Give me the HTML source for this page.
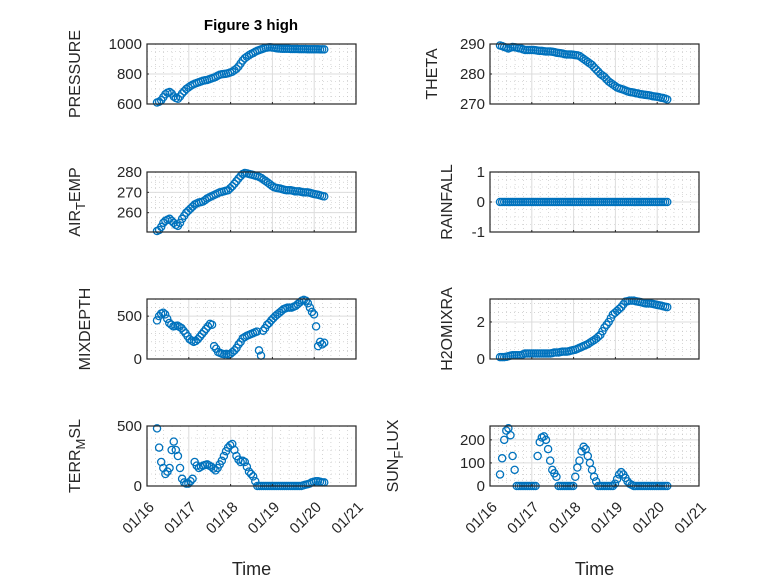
<!DOCTYPE html>
<html><head><meta charset="utf-8"><style>
body{margin:0;background:#fff;}
svg{display:block;font-family:"Liberation Sans","DejaVu Sans",sans-serif;}
</style></head><body>
<svg id="fig" width="778" height="583" viewBox="0 0 778 583" xmlns="http://www.w3.org/2000/svg">
<rect width="778" height="583" fill="#fff"/>
<text x="251" y="30" text-anchor="middle" font-size="15" font-weight="bold" fill="#000">Figure 3 high</text>
</svg>
<script>
const xTickLabels = ['01/16','01/17','01/18','01/19','01/20','01/21'];
const tStart = 0.24, tEnd = 4.24;
const pressure = [610,615,625,645,665,675,680,670,650,640,635,650,670,685,700,710,720,728,735,740,745,750,755,758,760,765,770,775,780,788,795,798,800,802,805,810,815,825,835,850,870,890,905,915,925,933,940,948,955,960,965,970,975,977,978,977,975,972,970,969,968,968,968,968,967,967,967,967,966,966,966,966,965,965,965,965,965,965,964,964,964];
const airTemp = [251,251.5,253,255,256,256.5,257,256,255,254,253.5,255,257,258.5,260,261,262,263,264,264.5,265,265.2,265.5,266.2,267,267.5,268,268.5,269,269.5,270,270.2,270.5,270.8,271,272,273,274.2,275.5,276.8,278,279,279.5,279.3,279,278.8,278.5,278.2,278,277.5,277,276.2,275.5,274.8,274,273.2,272.5,272.2,272,271.8,271.5,271.2,271,271,271,270.8,270.5,270.5,270.5,270.2,270,270,270,269.8,269.5,269.2,269,268.8,268.5,268.2,268];
const mixDepth = [450,500,530,540,520,470,420,400,380,385,390,375,360,330,300,265,230,215,200,210,230,260,290,320,350,380,410,400,150,120,80,70,60,55,60,50,60,80,100,130,170,200,240,255,270,280,290,300,310,320,100,40,330,360,400,420,450,475,500,520,540,560,580,590,600,600,600,610,620,640,660,680,690,680,650,600,550,520,380,150,200,170,190];
const terrMsl = [480,320,200,150,100,120,150,300,370,300,250,150,60,30,20,20,40,60,200,170,150,160,170,175,180,170,160,145,130,150,180,210,250,290,320,340,350,300,250,220,200,210,200,160,120,100,80,40,0,0,0,0,0,0,0,0,0,0,0,0,0,0,0,0,0,0,0,0,0,0,5,10,15,20,30,35,40,40,35,30,30];
const theta = [289.5,289.3,289,288.8,288.5,288.8,289,288.9,288.8,288.6,288.5,288.2,288,288,288,288,288,287.9,287.8,287.7,287.7,287.6,287.5,287.5,287.5,287.4,287.3,287.1,287,286.9,286.8,286.6,286.5,286.5,286.5,286.4,286.3,286.2,286,285.5,285,284.5,284,283.5,283,282.2,281.5,280.8,280,279.5,279,278.2,277.5,277,276.5,276,275.5,275.2,275,274.8,274.5,274.2,274,273.9,273.8,273.6,273.5,273.3,273.2,273.1,273,272.9,272.8,272.6,272.5,272.4,272.3,272.1,272,271.8,271.5];
const rainfall = [0,0,0,0,0,0,0,0,0,0,0,0,0,0,0,0,0,0,0,0,0,0,0,0,0,0,0,0,0,0,0,0,0,0,0,0,0,0,0,0,0,0,0,0,0,0,0,0,0,0,0,0,0,0,0,0,0,0,0,0,0,0,0,0,0,0,0,0,0,0,0,0,0,0,0,0,0,0,0,0,0];
const h2oMix = [0.1,0.1,0.1,0.12,0.15,0.18,0.2,0.2,0.2,0.2,0.2,0.25,0.3,0.3,0.3,0.3,0.3,0.3,0.3,0.3,0.3,0.3,0.3,0.3,0.3,0.32,0.35,0.35,0.35,0.38,0.4,0.4,0.4,0.42,0.45,0.48,0.5,0.55,0.6,0.65,0.7,0.75,0.8,0.88,0.95,1.02,1.1,1.2,1.3,1.5,1.7,1.85,2.0,2.2,2.4,2.5,2.6,2.7,2.8,2.95,3.1,3.12,3.15,3.15,3.15,3.12,3.1,3.08,3.05,3.02,3.0,3.0,3.0,2.98,2.95,2.92,2.9,2.88,2.85,2.82,2.8];
const sunFlux = [50,120,200,240,250,220,130,70,0,0,0,0,0,0,0,0,0,0,130,190,210,215,200,160,110,70,55,40,0,0,0,0,0,0,0,0,40,80,110,150,170,160,130,100,70,40,20,0,0,0,0,0,0,0,0,10,30,50,60,50,35,20,10,5,0,0,0,0,0,0,0,0,0,0,0,0,0,0,0,0,0];

const NS = 'http://www.w3.org/2000/svg';
const svg = document.getElementById('fig');
function mk(tag, attrs, parent) {
  const e = document.createElementNS(NS, tag);
  for (const k in attrs) e.setAttribute(k, attrs[k]);
  (parent || svg).appendChild(e);
  return e;
}
const panels = [
  {name:'pressure', x0:147, y0:44, ymin:600, ymax:1000, ticks:[600,800,1000], minor:50, data:pressure, label:['PRESSURE'], lx:80},
  {name:'air-temp', x0:147, y0:172, ymin:250.5, ymax:280, ticks:[260,270,280], minor:2.5, data:airTemp, label:['AIR','T','EMP'], lx:80},
  {name:'mixdepth', x0:147, y0:299, ymin:0, ymax:700, ticks:[0,500], minor:100, data:mixDepth, label:['MIXDEPTH'], lx:90},
  {name:'terr-msl', x0:147, y0:426, ymin:0, ymax:500, ticks:[0,500], minor:100, data:terrMsl, label:['TERR','M','SL'], lx:80, bottom:true},
  {name:'theta', x0:490, y0:44, ymin:270, ymax:290, ticks:[270,280,290], minor:2.5, data:theta, label:['THETA'], lx:437},
  {name:'rainfall', x0:490, y0:172, ymin:-1, ymax:1, ticks:[-1,0,1], minor:0.25, data:rainfall, label:['RAINFALL'], lx:452},
  {name:'h2omixra', x0:490, y0:299, ymin:0, ymax:3.24, ticks:[0,2], minor:0.5, data:h2oMix, label:['H2OMIXRA'], lx:452},
  {name:'sun-flux', x0:490, y0:426, ymin:0, ymax:260, ticks:[0,100,200], minor:25, data:sunFlux, label:['SUN','F','LUX'], lx:398, bottom:true}
];
const W = 209, H = 60;
panels.forEach(p => {
  const g = mk('g', {});
  
  
  const xs = d => p.x0 + d / 5 * W;
  const ys = v => p.y0 + H - (v - p.ymin) / (p.ymax - p.ymin) * H;
  mk('rect', {x:p.x0, y:p.y0, width:W, height:H, fill:'#fff'}, g);
  for (let d = 0; d <= 5.001; d += 0.2) {
    if (Math.abs(d - Math.round(d)) < 0.01) continue;
    mk('line', {x1:xs(d), x2:xs(d), y1:p.y0, y2:p.y0+H, stroke:'#bbb', 'stroke-width':0.6, 'stroke-dasharray':'1 3'}, g);
  }
  for (let v = Math.ceil(p.ymin / p.minor) * p.minor; v <= p.ymax + 1e-9; v += p.minor) {
    if (p.ticks.some(tk => Math.abs(tk - v) < 1e-9)) continue;
    mk('line', {x1:p.x0, x2:p.x0+W, y1:ys(v), y2:ys(v), stroke:'#bbb', 'stroke-width':0.6, 'stroke-dasharray':'1 3'}, g);
  }
  for (let d = 1; d < 5; d++) mk('line', {x1:xs(d), x2:xs(d), y1:p.y0, y2:p.y0+H, stroke:'#dcdcdc', 'stroke-width':1}, g);
  p.ticks.forEach(v => {
    mk('line', {x1:p.x0, x2:p.x0+W, y1:ys(v), y2:ys(v), stroke:'#dcdcdc', 'stroke-width':1}, g);
    const tl = mk('text', {x:p.x0-5, y:ys(v)+5, 'text-anchor':'end', 'font-size':15, fill:'#262626'}, g);
    
    
    tl.textContent = v;
    mk('line', {x1:p.x0, x2:p.x0+2, y1:ys(v), y2:ys(v), stroke:'#262626'}, g);
  });
  const n = p.data.length;
  p.data.forEach((v, i) => {
    const tt = tStart + i * (tEnd - tStart) / (n - 1);
    const c = mk('circle', {cx:xs(tt), cy:ys(v), r:3.6, fill:'none', stroke:'#0072BD', 'stroke-width':1.3}, g);
    
    
  });
  mk('rect', {x:p.x0, y:p.y0, width:W, height:H, fill:'none', stroke:'#262626', 'stroke-width':1.2}, g);
  for (let d = 0; d <= 5; d++) mk('line', {x1:xs(d), x2:xs(d), y1:p.y0+H, y2:p.y0+H-2, stroke:'#262626'}, g);
  const lab = mk('text', {transform:`translate(${p.lx},${p.y0+H/2}) rotate(-90)`, 'text-anchor':'middle', 'font-size':16, fill:'#262626'}, g);
  
  
  if (p.label.length === 1) lab.textContent = p.label[0];
  else {
    mk('tspan', {}, lab).textContent = p.label[0];
    mk('tspan', {dy:5, 'font-size':13}, lab).textContent = p.label[1];
    mk('tspan', {dy:-5}, lab).textContent = p.label[2];
  }
  if (p.bottom) {
    xTickLabels.forEach((s, d) => {
      const x = xs(d), y = p.y0 + H + 22;
      const tx = mk('text', {transform:`translate(${x+8},${y}) rotate(-45)`, 'text-anchor':'end', 'font-size':15, fill:'#262626'}, g);
      
      
      tx.textContent = s;
    });
    const xt = mk('text', {x:p.x0+W/2, y:575, 'text-anchor':'middle', 'font-size':18, fill:'#262626'}, g);
    
    
    xt.textContent = 'Time';
  }
});
</script>
</body></html>
